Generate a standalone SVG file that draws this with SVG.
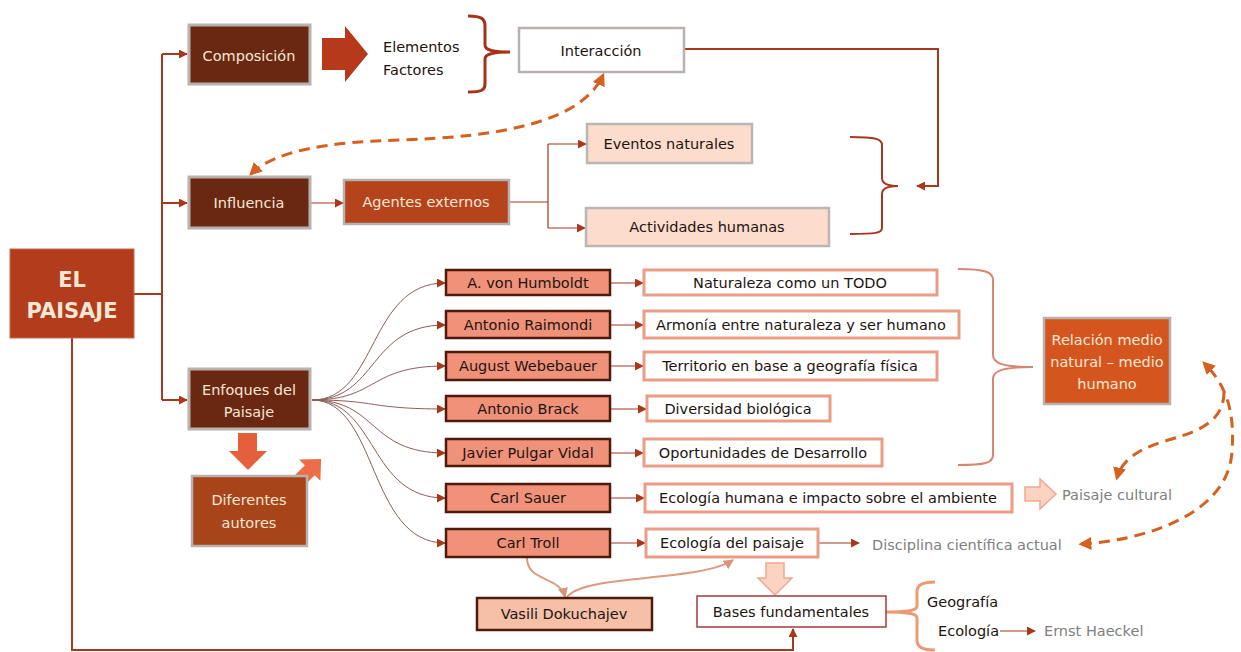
<svg xmlns="http://www.w3.org/2000/svg" width="1241" height="652" viewBox="0 0 1241 652">
  <defs>
    <style>
      text { font-family: "DejaVu Sans", "Liberation Sans", sans-serif; font-size: 14.5px; }
      .c { text-anchor: middle; }
      .lt { fill: #f6e7d4; }
      .dk { fill: #1e1410; }
      .gy { fill: #808080; }
      .brown { fill: #6a2812; stroke: #b9b1ae; stroke-width: 3; }
      .rust { fill: #b5441c; stroke: #b9b1ae; stroke-width: 2.5; }
      .peach { fill: #fcdccc; stroke: #bdb5b2; stroke-width: 2.5; }
      .white { fill: #ffffff; stroke: #b9b1ae; stroke-width: 2.5; }
      .author { fill: #f0917a; stroke: #4d1a0c; stroke-width: 2.5; }
      .stmt { fill: #ffffff; stroke: #eb9c85; stroke-width: 3; }
      .link { fill: none; stroke: #a8381c; stroke-width: 2; }
      .thin { fill: none; stroke: #a8381c; stroke-width: 1.2; }
      .fan { fill: none; stroke: #8c5e55; stroke-width: 1; }
      .soft { fill: none; stroke: #dc9a80; stroke-width: 2; }
      .dash { fill: none; stroke: #d5601f; stroke-width: 3; stroke-dasharray: 11 7; }
    </style>
    <marker id="ah" viewBox="0 0 10 10" refX="9" refY="5" markerWidth="9" markerHeight="9" markerUnits="userSpaceOnUse" orient="auto-start-reverse">
      <path d="M0,0 L10,5 L0,10 z" fill="#a8381c"/>
    </marker>
    <marker id="ahs" viewBox="0 0 10 10" refX="9" refY="5" markerWidth="10" markerHeight="10" markerUnits="userSpaceOnUse" orient="auto-start-reverse">
      <path d="M0,0 L10,5 L0,10 z" fill="#d99478"/>
    </marker>
    <marker id="ahd" viewBox="0 0 10 10" refX="8" refY="5" markerWidth="13" markerHeight="13" markerUnits="userSpaceOnUse" orient="auto-start-reverse">
      <path d="M0,0 L10,5 L0,10 z" fill="#d5601f"/>
    </marker>
  </defs>

  <rect width="1241" height="652" fill="#ffffff"/>

  <!-- connectors -->
  <g id="connectors">
    <!-- trunk from EL PAISAJE -->
    <path class="link" d="M134,294 H162"/>
    <path class="link" d="M162,54 V400"/>
    <path class="link" d="M162,54 H187" marker-end="url(#ah)"/>
    <path class="link" d="M162,203 H187" marker-end="url(#ah)"/>
    <path class="link" d="M162,400 H187" marker-end="url(#ah)"/>
    <path class="link" d="M72,338 V650 H793 V629" marker-end="url(#ah)"/>

    <!-- composition arrow -->
    <polygon points="322,38 345,38 345,26 368,54 345,82 345,70 322,70" fill="#b5391a"/>
    <!-- bracket Elementos / Factores -->
    <path d="M468,16 C482,16 485,19 485,26 V45 C485,50 492,52 510,52 C492,52 485,54 485,59 V84 C485,90 482,92 468,92" fill="none" stroke="#a83018" stroke-width="3"/>

    <!-- Interacción to the agents bracket -->
    <path class="link" d="M684,49 H938 V186 H917" marker-end="url(#ah)"/>
    <path class="link" d="M850,137 C876,137 882,139 882,145 V178 C882,184 890,186 898,186 C890,186 882,188 882,194 V228 C882,233 876,234 850,234"/>

    <!-- Influencia chain -->
    <path class="thin" d="M310,203 H343" marker-end="url(#ah)"/>
    <path class="thin" d="M509,202 H548 M548,144 V228"/>
    <path class="thin" d="M548,144 H586" marker-end="url(#ah)"/>
    <path class="thin" d="M548,228 H585" marker-end="url(#ah)"/>

    <!-- dashed Influencia / Interacción -->
    <path class="dash" d="M251,174 C275,150 330,142 400,140 C500,137 582,122 603,75" marker-start="url(#ahd)" marker-end="url(#ahd)"/>

    <!-- Enfoques arrows -->
    <polygon points="238,433 257,433 257,451 267,451 248,470 229,451 238,451" fill="#e5603a"/>
    <polygon points="0,-7 28,-7 28,-15 44,0 28,15 28,7 0,7" fill="#ec6d47" transform="translate(290,490) rotate(-45)"/>

    <!-- fan to the authors -->
    <path class="fan" d="M312,400 C378,400 368,283 445,283" marker-end="url(#ah)"/>
    <path class="fan" d="M312,400 C378,400 368,325 445,325" marker-end="url(#ah)"/>
    <path class="fan" d="M312,400 C378,400 368,366 445,366" marker-end="url(#ah)"/>
    <path class="fan" d="M312,400 C378,400 368,409 445,409" marker-end="url(#ah)"/>
    <path class="fan" d="M312,400 C378,400 368,453 445,453" marker-end="url(#ah)"/>
    <path class="fan" d="M312,400 C378,400 368,498 445,498" marker-end="url(#ah)"/>
    <path class="fan" d="M312,400 C378,400 368,543 445,543" marker-end="url(#ah)"/>

    <!-- authors to ideas -->
    <path class="thin" d="M610,283 H643" marker-end="url(#ah)"/>
    <path class="thin" d="M610,325 H643" marker-end="url(#ah)"/>
    <path class="thin" d="M610,366 H643" marker-end="url(#ah)"/>
    <path class="thin" d="M610,409 H646" marker-end="url(#ah)"/>
    <path class="thin" d="M610,453 H643" marker-end="url(#ah)"/>
    <path class="thin" d="M610,498 H644" marker-end="url(#ah)"/>
    <path class="thin" d="M610,543 H645" marker-end="url(#ah)"/>

    <!-- bracket to Relación -->
    <path d="M958,269 C985,269 993,272 993,280 V355 C993,364 1005,367 1033,367 C1005,367 993,370 993,379 V455 C993,463 985,465 958,465" fill="none" stroke="#d98670" stroke-width="2"/>

    <!-- Paisaje cultural hollow arrow -->
    <polygon points="1025,487 1040,487 1040,479 1056,494 1040,509 1040,501 1025,501" fill="#fbd3c3" stroke="#f0a890" stroke-width="1.5"/>
    <!-- Ecología del paisaje to Disciplina -->
    <path class="thin" d="M818,543 H859" marker-end="url(#ah)"/>

    <!-- dashed Relación loops -->
    <path class="dash" d="M1081,544 C1150,540 1228,512 1232,452 C1235,410 1226,385 1204,363" marker-start="url(#ahd)" marker-end="url(#ahd)"/>
    <path class="dash" d="M1224,392 C1224,425 1192,433 1162,442 C1136,450 1121,462 1117,478" marker-end="url(#ahd)"/>

    <!-- Carl Troll, Dokuchajev, Ecología del paisaje -->
    <path class="soft" d="M527,558 C527,582 560,576 565,597" marker-end="url(#ahs)"/>
    <path class="soft" d="M567,597 C585,574 700,582 733,560" marker-end="url(#ahs)"/>

    <!-- Ecología del paisaje to Bases -->
    <polygon points="766,563 784,563 784,578 792,578 775,595 758,578 766,578" fill="#fbd3c3" stroke="#f0a890" stroke-width="1.5"/>

    <!-- bracket Geografía / Ecología -->
    <path d="M935,582 C922,582 917,585 917,592 V606 C917,610 910,612 886,612 C910,612 917,614 917,618 V640 C917,647 922,650 935,650" fill="none" stroke="#ec9a72" stroke-width="3"/>
    <path class="thin" d="M1000,631 H1035" marker-end="url(#ah)"/>
  </g>

  <!-- nodes -->
  <g id="el-paisaje">
    <rect x="10" y="249" width="124" height="89" fill="#b23c1c" stroke="#c46a50" stroke-width="1"/>
    <text x="72" y="287" class="c lt" style="font-size:21px;font-weight:bold">EL</text>
    <text x="72" y="318" class="c lt" style="font-size:21px;font-weight:bold">PAISAJE</text>
  </g>

  <g id="composicion">
    <rect x="189" y="25" width="121" height="59" class="brown"/>
    <text x="249" y="61" class="c lt">Composición</text>
  </g>

  <g id="elementos-factores">
    <text x="383" y="52" class="dk">Elementos</text>
    <text x="383" y="75" class="dk">Factores</text>
  </g>

  <g id="interaccion">
    <rect x="519" y="28" width="165" height="44" class="white"/>
    <text x="601" y="56" class="c dk">Interacción</text>
  </g>

  <g id="influencia">
    <rect x="189" y="177" width="121" height="51" class="brown"/>
    <text x="249" y="208" class="c lt">Influencia</text>
  </g>

  <g id="agentes-externos">
    <rect x="344" y="180" width="165" height="44" class="rust"/>
    <text x="426" y="207" class="c lt">Agentes externos</text>
  </g>

  <g id="eventos-naturales">
    <rect x="587" y="124" width="165" height="39" class="peach"/>
    <text x="669" y="149" class="c dk">Eventos naturales</text>
  </g>

  <g id="actividades-humanas">
    <rect x="586" y="208" width="243" height="38" class="peach"/>
    <text x="707" y="232" class="c dk">Actividades humanas</text>
  </g>

  <g id="enfoques">
    <rect x="189" y="369" width="121" height="60" class="brown"/>
    <text x="249" y="395" class="c lt">Enfoques del</text>
    <text x="249" y="417" class="c lt">Paisaje</text>
  </g>

  <g id="diferentes-autores">
    <rect x="192" y="476" width="115" height="70" fill="#a8441a" stroke="#b9b1ae" stroke-width="2.5"/>
    <text x="249" y="505" class="c lt">Diferentes</text>
    <text x="249" y="528" class="c lt">autores</text>
  </g>

  <g id="humboldt">
    <rect x="446" y="270" width="164" height="25" class="author"/>
    <text x="528" y="288" class="c dk">A. von Humboldt</text>
  </g>
  <g id="raimondi">
    <rect x="446" y="311" width="164" height="27" class="author"/>
    <text x="528" y="330" class="c dk">Antonio Raimondi</text>
  </g>
  <g id="webebauer">
    <rect x="446" y="352" width="164" height="28" class="author"/>
    <text x="528" y="371" class="c dk">August Webebauer</text>
  </g>
  <g id="brack">
    <rect x="446" y="396" width="164" height="25" class="author"/>
    <text x="528" y="414" class="c dk">Antonio Brack</text>
  </g>
  <g id="pulgar-vidal">
    <rect x="446" y="439" width="164" height="27" class="author"/>
    <text x="528" y="458" class="c dk">Javier Pulgar Vidal</text>
  </g>
  <g id="sauer">
    <rect x="446" y="484" width="164" height="28" class="author"/>
    <text x="528" y="503" class="c dk">Carl Sauer</text>
  </g>
  <g id="troll">
    <rect x="446" y="529" width="164" height="28" class="author"/>
    <text x="528" y="548" class="c dk">Carl Troll</text>
  </g>

  <g id="naturaleza-todo">
    <rect x="644" y="270" width="293" height="25" class="stmt"/>
    <text x="790" y="288" class="c dk">Naturaleza como un TODO</text>
  </g>
  <g id="armonia">
    <rect x="644" y="311" width="315" height="27" class="stmt"/>
    <text x="801" y="330" class="c dk">Armonía entre naturaleza y ser humano</text>
  </g>
  <g id="territorio">
    <rect x="644" y="352" width="293" height="28" class="stmt"/>
    <text x="790" y="371" class="c dk">Territorio en base a geografía física</text>
  </g>
  <g id="diversidad">
    <rect x="647" y="396" width="183" height="25" class="stmt"/>
    <text x="738" y="414" class="c dk">Diversidad biológica</text>
  </g>
  <g id="oportunidades">
    <rect x="644" y="439" width="238" height="27" class="stmt"/>
    <text x="763" y="458" class="c dk">Oportunidades de Desarrollo</text>
  </g>
  <g id="ecologia-humana">
    <rect x="645" y="484" width="367" height="28" class="stmt"/>
    <text x="828" y="503" class="c dk">Ecología humana e impacto sobre el ambiente</text>
  </g>
  <g id="ecologia-paisaje">
    <rect x="646" y="529" width="172" height="28" class="stmt"/>
    <text x="732" y="548" class="c dk">Ecología del paisaje</text>
  </g>

  <g id="relacion">
    <rect x="1044" y="318" width="126" height="86" fill="#d4561e" stroke="#b9b1ae" stroke-width="2.5"/>
    <text x="1107" y="345" class="c lt">Relación medio</text>
    <text x="1107" y="367" class="c lt">natural – medio</text>
    <text x="1107" y="389" class="c lt">humano</text>
  </g>

  <g id="paisaje-cultural">
    <text x="1062" y="500" class="gy">Paisaje cultural</text>
  </g>
  <g id="disciplina">
    <text x="872" y="550" class="gy">Disciplina científica actual</text>
  </g>

  <g id="dokuchajev">
    <rect x="477" y="598" width="175" height="32" fill="#f6c0a8" stroke="#4d1a0c" stroke-width="2.5"/>
    <text x="564" y="619" class="c dk">Vasili Dokuchajev</text>
  </g>

  <g id="bases">
    <rect x="697" y="596" width="189" height="31" fill="#ffffff" stroke="#a83a3a" stroke-width="1.5"/>
    <text x="791" y="617" class="c dk">Bases fundamentales</text>
  </g>

  <g id="geografia">
    <text x="927" y="607" class="dk">Geografía</text>
  </g>
  <g id="ecologia">
    <text x="938" y="636" class="dk">Ecología</text>
  </g>
  <g id="haeckel">
    <text x="1044" y="636" class="gy">Ernst Haeckel</text>
  </g>
</svg>
